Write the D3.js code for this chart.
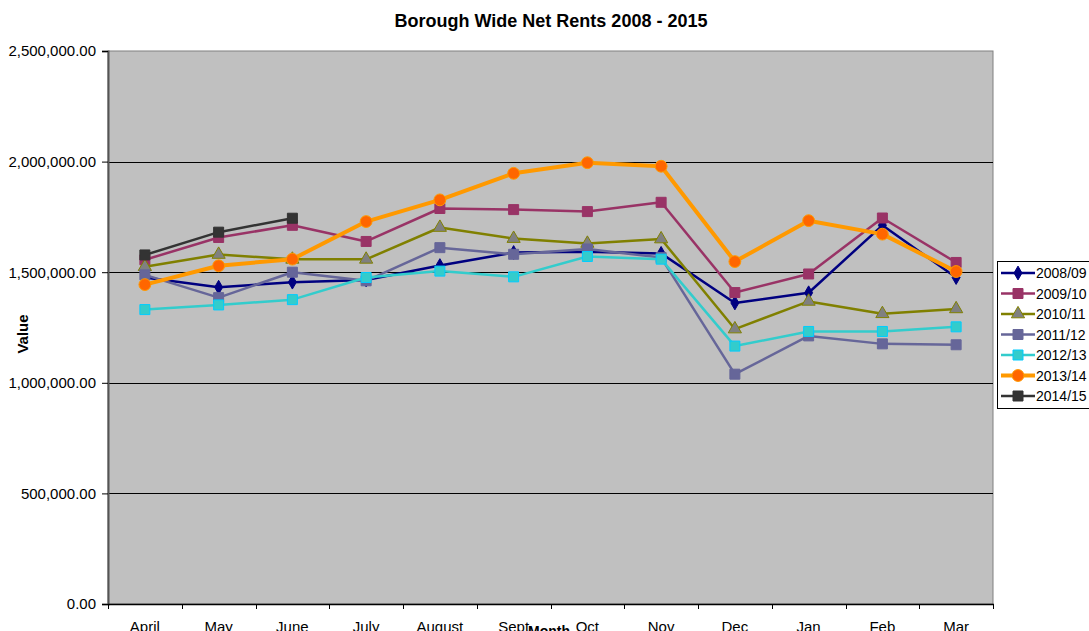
<!DOCTYPE html>
<html>
<head>
<meta charset="utf-8">
<script src="https://cdn.jsdelivr.net/npm/d3@7"></script>
<style>
  body { margin: 0; background: #fff; }
  text { font-family: "Liberation Sans", Arial, sans-serif; }
</style>
</head>
<body>
<div id="chart"></div>
<script>
var months = ["April", "May", "June", "July", "August", "Sept", "Oct", "Nov", "Dec", "Jan", "Feb", "Mar"];
var yTicks = [0, 500000, 1000000, 1500000, 2000000, 2500000];

var s0809 = [1476000, 1432000, 1455000, 1465000, 1530000, 1589000, 1593000, 1585000, 1361000, 1407000, 1712000, 1476000];
var s0910 = [1556000, 1657000, 1712000, 1639000, 1788000, 1783000, 1774000, 1816000, 1408000, 1492000, 1745000, 1544000];
var s1011 = [1525000, 1580000, 1558000, 1558000, 1702000, 1652000, 1630000, 1650000, 1243000, 1368000, 1312000, 1334000];
var s1112 = [1488000, 1385000, 1500000, 1461000, 1611000, 1581000, 1605000, 1566000, 1039000, 1212000, 1176000, 1172000];
var s1213 = [1331000, 1352000, 1376000, 1476000, 1505000, 1479000, 1571000, 1559000, 1166000, 1232000, 1232000, 1253000];
var s1314 = [1444000, 1529000, 1559000, 1729000, 1827000, 1947000, 1995000, 1979000, 1548000, 1733000, 1672000, 1503000];
var s1415 = [1578000, 1681000, 1744000];

var series = [
  {name: "2008/09", values: s0809, line: "#000080", fill: "#000080", stroke: "#000080", shape: "diamond", w: 2.5},
  {name: "2009/10", values: s0910, line: "#993366", fill: "#993366", stroke: "#993366", shape: "square", w: 2.5},
  {name: "2010/11", values: s1011, line: "#808000", fill: "#808080", stroke: "#808000", shape: "triangle", w: 2.5},
  {name: "2011/12", values: s1112, line: "#666699", fill: "#666699", stroke: "#666699", shape: "square", w: 2.5},
  {name: "2012/13", values: s1213, line: "#33CCCC", fill: "#33CCCC", stroke: "#00CCFF", shape: "square", w: 2.5},
  {name: "2013/14", values: s1314, line: "#FF9900", fill: "#FF6600", stroke: "#FF9900", shape: "circle", w: 4},
  {name: "2014/15", values: s1415, line: "#333333", fill: "#333333", stroke: "#333333", shape: "square", w: 2.5}
];

var W = 1089, H = 631;
var L = 108, R = 993, T = 51, B = 604;

var svg = d3.select("#chart").append("svg")
  .attr("width", W)
  .attr("height", H);

var x = d3.scaleBand().domain(months).range([L, R]);
var y = d3.scaleLinear().domain([0, 2500000]).range([B, T]);

// plot background
svg.append("rect")
  .attr("x", L).attr("y", T)
  .attr("width", R - L).attr("height", B - T)
  .attr("fill", "#C0C0C0")
  .attr("stroke", "#808080")
  .attr("stroke-width", 1);

// gridlines
svg.append("g").selectAll("line")
  .data(yTicks.filter(function(d) { return d > 0 && d < 2500000; }))
  .enter().append("line")
  .attr("x1", L).attr("x2", R)
  .attr("y1", function(d) { return Math.round(y(d)) + 0.5; })
  .attr("y2", function(d) { return Math.round(y(d)) + 0.5; })
  .attr("stroke", "#000")
  .attr("stroke-width", 1);

// y axis
var yAxis = svg.append("g")
  .attr("transform", "translate(" + L + ",0)")
  .call(d3.axisLeft(y).tickValues(yTicks).tickSize(6).tickPadding(6)
    .tickFormat(function(d) { return d3.format(",.2f")(d); }));
yAxis.select(".domain").attr("stroke", "#555").attr("stroke-width", 2);
yAxis.selectAll(".tick line").attr("stroke", "#000");
yAxis.selectAll("text").style("font-size", "15px").attr("fill", "#000");

// x axis: ticks at band boundaries
var xg = svg.append("g");
xg.append("line")
  .attr("x1", L).attr("x2", R + 1)
  .attr("y1", B + 0.5).attr("y2", B + 0.5)
  .attr("stroke", "#000").attr("stroke-width", 1.5);
var bounds = months.map(function(m) { return x(m); }).concat([R]);
xg.selectAll(".xt").data(bounds).enter().append("line")
  .attr("x1", function(d) { return Math.round(d) + 0.5; })
  .attr("x2", function(d) { return Math.round(d) + 0.5; })
  .attr("y1", B).attr("y2", B + 5)
  .attr("stroke", "#000");
xg.selectAll(".xl").data(months).enter().append("text")
  .attr("x", function(d) { return x(d) + x.bandwidth() / 2; })
  .attr("y", 632)
  .attr("text-anchor", "middle")
  .style("font-size", "15px")
  .text(function(d) { return d; });

// titles
svg.append("text")
  .attr("x", 551).attr("y", 27)
  .attr("text-anchor", "middle")
  .style("font-size", "18px").style("font-weight", "bold")
  .text("Borough Wide Net Rents 2008 - 2015");

svg.append("text")
  .attr("transform", "translate(28," + 334 + ") rotate(-90)")
  .attr("text-anchor", "middle")
  .style("font-size", "15px").style("font-weight", "bold")
  .text("Value");

svg.append("text")
  .attr("x", 549).attr("y", 636)
  .attr("text-anchor", "middle")
  .style("font-size", "14px").style("font-weight", "bold")
  .text("Month");

function shapePath(shape) {
  if (shape === "diamond") return d3.symbol().type(d3.symbolDiamond).size(55)();
  if (shape === "triangle") return d3.symbol().type(d3.symbolTriangle).size(75)();
  if (shape === "circle") return d3.symbol().type(d3.symbolCircle).size(110)();
  return d3.symbol().type(d3.symbolSquare).size(100)();
}

var line = d3.line()
  .x(function(d, i) { return x(months[i]) + x.bandwidth() / 2; })
  .y(function(d) { return y(d); });

series.forEach(function(s) {
  var g = svg.append("g");
  g.append("path")
    .attr("d", line(s.values))
    .attr("fill", "none")
    .attr("stroke", s.line)
    .attr("stroke-width", s.w)
    .attr("stroke-linejoin", "round");
  g.selectAll("path.m").data(s.values).enter().append("path")
    .attr("class", "m")
    .attr("d", shapePath(s.shape))
    .attr("transform", function(d, i) {
      return "translate(" + (x(months[i]) + x.bandwidth() / 2) + "," + y(d) + ")";
    })
    .attr("fill", s.fill)
    .attr("stroke", s.stroke)
    .attr("stroke-width", 1);
});

// legend
var lg = svg.append("g").attr("transform", "translate(997,261)");
lg.append("rect")
  .attr("x", 0.5).attr("y", 0.5)
  .attr("width", 100).attr("height", 147)
  .attr("fill", "#fff").attr("stroke", "#000");
series.forEach(function(s, i) {
  var cy = 12 + i * 20.5;
  lg.append("line")
    .attr("x1", 4).attr("x2", 38)
    .attr("y1", cy).attr("y2", cy)
    .attr("stroke", s.line).attr("stroke-width", s.w);
  lg.append("path")
    .attr("d", shapePath(s.shape))
    .attr("transform", "translate(21," + cy + ")")
    .attr("fill", s.fill).attr("stroke", s.stroke);
  lg.append("text")
    .attr("x", 39).attr("y", cy + 5)
    .style("font-size", "14px")
    .text(s.name);
});
</script>
</body>
</html>
